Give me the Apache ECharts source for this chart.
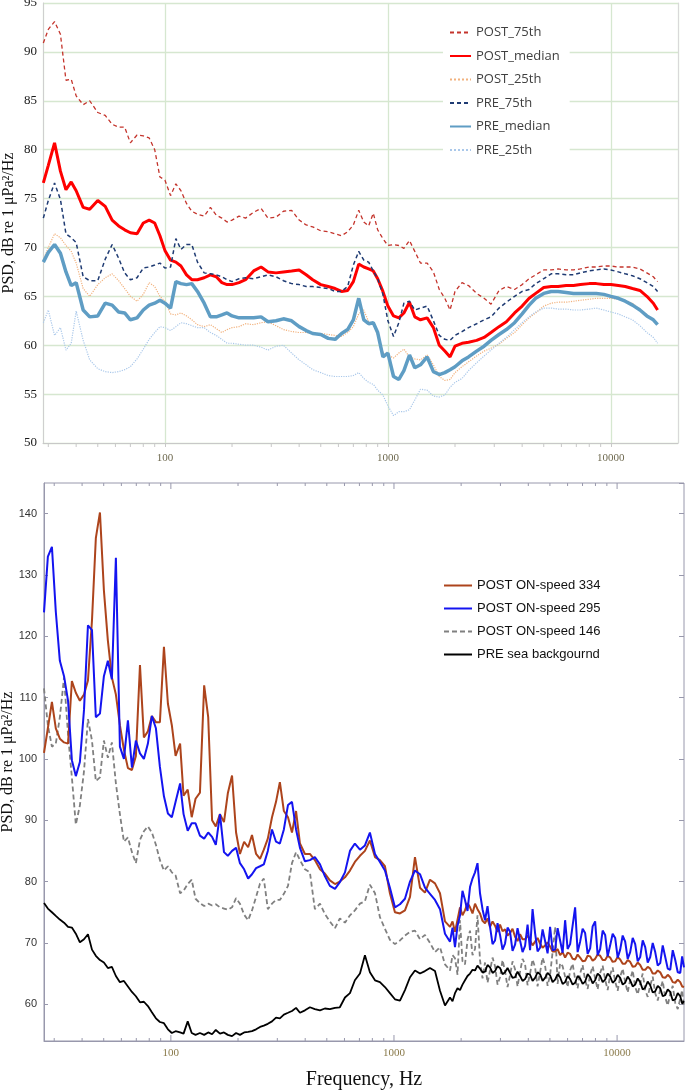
<!DOCTYPE html>
<html>
<head>
<meta charset="utf-8">
<title>PSD spectra</title>
<script src="https://cdn.jsdelivr.net/npm/echarts@6/dist/echarts.min.js"></script>
<style>
  html, body { margin: 0; padding: 0; background: #fff; }
  #main { width: 685px; height: 1091px; }
</style>
</head>
<body>
<div id="main"></div>
<script>
// ---- top panel: percentiles PRE / POST ----
var topFreq = [28.5,30,32,34,36,38,40,43,46,50, 54,58,62,66,70,75,80,85,90,95,
  100,106,112,118,125,132,140,150,160,170, 180,190,200,215,230,250,270,290,315,340,
  370,400,430,460,500,540,580,620,660,700, 740,780,820,860,900,950,1000,1060,1120,1180,
  1250,1320,1400,1500,1600,1700,1800,1900,2000,2150, 2300,2500,2700,2900,3150,3400,3700,4000,4300,4600,
  5000,5400,5800,6300,6800,7300,8000,8600,9300,10000, 10800,11600,12500,13500,14500,15500,16200];

var post75 = [90.9,92.3,93.1,91.8,87.1,87.2,85.5,84.6,85.0,83.8, 83.5,82.6,82.3,82.3,80.7,81.5,81.4,81.2,80.0,77.2,
  76.9,75.3,76.5,75.8,74.5,73.7,73.4,73.2,74.1,73.3, 73.0,72.6,72.8,73.2,73.0,73.6,74.0,73.0,73.1,73.7,
  73.8,72.8,72.3,72.1,71.7,71.6,71.4,71.2,71.6,72.3, 73.8,72.6,72.2,73.5,71.8,70.9,70.2,70.3,70.2,69.9,
  70.7,69.6,68.4,68.4,67.5,65.7,64.8,63.6,65.5,66.4, 66.1,65.3,64.8,64.2,65.6,66.0,65.7,66.2,66.8,67.2,
  67.7,67.7,67.8,67.7,67.7,67.8,68.0,68.0,68.1,68.1, 68.0,68.0,68.0,67.8,67.4,67.0,66.5];
var postMedian = [76.6,78.4,80.7,77.8,75.9,76.7,75.8,74.1,73.9,74.8, 74.2,72.8,72.2,71.8,71.5,71.4,72.5,72.8,72.5,71.2,
  69.7,68.7,68.5,68.1,67.2,66.7,66.7,66.9,67.2,67.0, 66.4,66.2,66.2,66.4,66.7,67.6,68.0,67.5,67.4,67.5,
  67.6,67.7,67.2,66.7,66.2,66.0,65.8,65.5,65.6,66.5, 68.3,68.0,67.8,67.6,66.8,65.5,64.0,63.0,62.8,63.3,
  64.4,62.9,62.6,62.8,61.8,60.0,59.4,58.8,59.9,60.2, 60.3,60.5,60.8,61.3,61.9,62.4,63.3,64.0,64.8,65.3,
  65.9,66.0,66.0,66.1,66.1,66.2,66.3,66.3,66.2,66.2, 66.1,66.0,65.8,65.6,65.0,64.3,63.6];
var post25 = [68.7,70.0,71.4,71.0,70.2,69.6,68.4,65.8,65.0,66.2, 66.9,67.3,66.6,65.8,65.0,64.5,65.2,66.4,66.0,65.0,
  64.5,63.2,63.1,63.3,63.0,62.6,62.1,61.9,62.1,61.7, 61.3,61.6,61.8,61.9,62.2,62.1,62.3,62.4,62.0,61.6,
  61.4,61.3,61.3,61.2,61.2,61.1,61.0,60.9,61.3,61.9, 63.2,63.6,62.4,62.2,61.0,59.3,59.0,58.7,59.2,59.6,
  58.8,58.6,58.5,59.0,58.0,56.8,56.4,56.5,57.2,57.8, 58.3,58.9,59.4,59.7,60.1,60.7,61.3,62.1,62.8,63.3,
  64.0,64.3,64.4,64.4,64.5,64.6,64.7,64.8,64.8,64.8, 64.7,64.6,64.3,63.7,63.1,62.6,62.1];
var pre75 = [73.0,74.8,76.6,74.9,71.4,71.0,70.5,67.0,66.6,66.6, 68.8,70.3,68.9,67.4,66.7,66.9,67.9,68.0,68.2,68.4,
  67.9,68.0,70.9,69.8,70.3,70.3,68.5,67.4,67.3,67.2, 67.0,66.7,66.5,66.8,66.9,66.8,67.0,67.2,67.0,66.6,
  66.3,66.2,66.0,66.0,65.9,65.8,65.5,65.5,66.0,68.2, 69.6,68.7,68.5,67.6,66.8,65.2,62.5,60.9,62.3,64.3,
  64.5,63.6,63.8,64.0,62.5,61.0,60.6,60.5,61.0,61.4, 61.8,62.2,62.6,62.9,63.8,64.4,65.0,65.5,65.7,66.3,
  66.8,67.3,67.3,67.2,67.2,67.4,67.6,67.7,67.8,67.7, 67.5,67.3,67.1,66.8,66.4,66.0,65.5];
var preMedian = [68.5,69.5,70.3,69.4,67.5,66.1,66.4,63.6,62.9,63.0, 64.3,64.1,63.4,63.3,62.6,62.8,63.6,64.1,64.3,64.6,
  64.3,63.8,66.5,66.3,66.2,66.3,65.5,64.3,62.9,62.9, 63.1,63.3,63.0,62.8,62.8,62.8,62.9,62.4,62.5,62.7,
  62.5,61.9,61.5,61.2,61.1,60.7,60.6,61.2,61.6,62.6, 64.8,62.6,62.2,62.3,61.3,58.8,59.2,56.8,56.5,57.4,
  59.0,57.7,58.0,58.8,57.3,57.0,57.2,57.5,57.8,58.4, 58.8,59.4,59.9,60.5,61.1,61.6,62.3,63.2,64.1,64.8,
  65.3,65.5,65.5,65.4,65.3,65.3,65.3,65.3,65.2,65.0, 64.8,64.5,64.1,63.6,63.0,62.6,62.1];
var pre25 = [62.3,63.6,61.0,61.8,59.5,60.2,63.5,60.5,58.5,57.6, 57.3,57.2,57.3,57.5,57.8,58.6,59.6,60.6,61.3,61.9,
  61.8,61.5,61.9,62.3,62.2,62.0,61.8,61.8,61.3,61.0, 60.6,60.2,60.2,60.1,60.0,60.0,59.8,59.5,59.9,60.0,
  59.2,58.5,58.0,57.5,57.2,56.9,56.8,56.8,56.8,56.9, 57.2,56.6,56.2,56.0,55.4,54.9,53.8,52.8,53.2,53.2,
  53.4,54.4,55.5,55.4,54.8,54.7,54.9,55.7,56.2,56.6, 57.4,58.2,58.9,59.5,60.2,60.8,61.6,62.3,62.9,63.4,
  63.8,63.8,63.7,63.7,63.6,63.6,63.7,63.8,63.6,63.4, 63.2,62.9,62.6,62.0,61.3,60.8,60.2];

// ---- bottom panel: ON-speed passes vs background ----
var botFreq = [27.0,28.1,29.3,30.5,31.8,33.2,34.6,36.0,37.5,39.1, 40.8,42.5,44.3,46.1,48.1,50.1,52.2,54.4,56.7,59.1,
  61.6,64.2,66.9,69.7,72.7,75.7,78.9,82.2,85.7,89.3, 93.1,97.0,101,105,110,114,119,124,129,135,
  141,147,153,159,166,173,180,188,196,204, 213,222,231,241,251,261,272,284,296,308,
  321,335,349,364,379,
  399,420,442,466,490,516,544,572,603,635, 668,704,741,780,822,865,911,959,1010,1064,
  1120,1180,1242,1308,1377,1450,1527,1608,1693,
  1783,1830,1877,1927,1977,2028,2081,2136,2192,2249, 2308,2368,2430,2494,2559,2626,2695,2766,2838,2912,
  2988,3066,3146,3229,3313,3400,3489,3580,3674,3770, 3869,3970,4074,4180,4290,4402,4517,4636,4757,4881,
  5009,5140,5275,5413,5554,5700,5849,6002,6159,6320, 6485,6655,6829,7008,7191,7380,7573,7771,7974,8183,
  8397,8617,8842,9074,9311,9555,9805,10061,10325,10595, 10872,11157,11449,11749,12056,12372,12695,13027,13368,13718,
  14077,14445,14823,15211,15609,16018,16437,16867,17308,17761, 18226,18703,19192,19567,19950];

var on334 = [101,105,109.3,105,103.3,102.7,102.5,112.7,110.8,109.5, 110.5,112.8,122.6,136,140.2,127.5,119.3,113.3,110.5,105.5,
  101.5,98.5,98.2,100.5,115.3,103.5,104.5,107,106,106, 118.3,109,105.5,100.5,102.5,94,95,90.5,93.5,94.5,
  112,106.8,90,89,91,89.7,94.4,97.3,88,84.5, 86.5,85.6,87.6,84.5,83.7,85.2,87,90.5,93,96.2,
  91.5,90.5,88,91.5,86.2,
  84.5,84.5,83.5,82,81.3,80.2,79.6,80,80.7,81.8, 83.2,84.2,85,86.7,84,83.5,82.5,78.1,75,74.8,
  75.3,77.5,84,79,78.2,80.3,79.7,78.1,73.5,
  72.6,73.5,71.8,73.8,75.8,74.5,75.3,76.5,75.8,74.8, 76.4,75.5,74.8,73.6,73.2,74,72.6,73.5,72.8,71.8,
  73,71.9,72.2,71.2,71.6,72.3,71,70.3,71.4,70.6, 70.6,71.2,70.4,69.6,70.2,70.8,69.9,69.2,69.6,70.1,
  69.4,68.6,68.6,69,68,68.5,67.6,68.4,68.2,67.4, 67.3,68.1,67.6,67,67.1,67.9,67.8,67.1,67.4,68.1,
  67.9,67.2,67.2,67.9,67.6,66.9,67,67.7,67.3,66.6, 66.6,67.2,66.9,66.1,66.2,66.8,66.4,65.6,65.6,66.1,
  65.8,65,65,65.5,65.2,64.4,64.3,64.8,64.4,63.6, 63.5,64,63.6,62.9,62.8];
var on295 = [123.9,133,134.6,124,116,113.5,109.5,99.8,97.2,99.5, 108,121.8,121,106.8,107.4,113.5,116,113,132.8,102,
  100,106.3,98.6,103,100.9,100,102.5,107,105,98.7, 93.9,91.1,90.5,93,96,91,88.3,89.5,89.5,87.5,
  87,88,87.3,86,91,84.8,84.2,85,85.5,83, 82,80.5,81.2,82.2,82.5,82.8,85,88.5,86.5,86.2,
  88.5,92.5,93,88.5,85.5,
  83.3,83.5,84,82.8,80.9,79.3,78.8,79.9,81.5,85, 86.2,85.2,85.9,88,84.5,83.2,81.8,79,75.8,76.3,
  77.2,80,81.8,81.2,79,78,77,75.5,71.5,
  70.2,72.5,69.3,72.8,74.5,78.5,77,75.2,79.1,80.5, 81.5,83,78.1,75.5,73.7,76,72.6,69.8,70.4,73.2,
  71.3,68.9,69.9,72.5,71.8,68.7,69.7,72.4,70.4,68.5, 69.5,73,68.8,75.5,71.6,68.6,69.2,72.2,70.3,68.3,
  72.6,68.8,68.9,72.4,70.4,68.4,73.7,69,69.8,72.8, 75.8,68.5,70.2,72.3,71.6,68.2,69.1,72.7,73.5,68,
  69,72,71.3,67.8,69.6,71.5,70.8,67.6,68.9,71.2, 70.2,67.4,68.5,70.8,69.8,67,67.7,70.4,69.3,66.8,
  67.7,70,68.5,66.3,66.7,69.6,67.7,65.8,65.6,68.8, 67.2,65.2,65.1,67.8,66];
var on146 = [111.5,105.5,102,102.5,106.8,113.3,104,97,89.3,92.4, 98,106.5,103,96.4,97,103,100.2,102.7,96,91,
  86.5,87.2,84.8,83,86.8,88.2,89,88,86,83.5, 81.8,82.5,81.5,81,78.1,78.5,79.6,80.3,77.2,76.5,
  76,76.4,76.1,76.3,75.8,75.6,75.4,75.8,77.3,76.4, 74.6,73.7,75.3,77.5,79.7,80.5,75.5,76.4,77,77,
  78,79.3,83,84.8,83.5,
  82,81.5,75.5,76.4,74.7,73.5,72.4,74,73.3,74.5, 75.3,76.4,76.8,79.5,78.1,74.2,72.3,70.5,69.8,70.4,
  71.2,71.8,72,70.6,71.3,70,68.5,69.3,66.5,
  65.5,68,67.5,64.8,73.7,67,66.5,70.5,72,68, 69,74.5,67.2,64.2,66.8,63.5,65.5,67.6,66.2,63.2,
  64.4,67.2,65.4,62.8,64.7,67,65.7,62.9,65.3,67.4, 66.5,63.1,65,67.3,66,62.9,65.2,67.6,66.3,63,
  64.8,68.5,72.6,63.3,66.7,66.2,64.5,62.8,65.5,66.6, 64.1,62.6,65,66.4,63.9,62.5,64.8,66.2,64.2,62.4,
  65.1,66.3,64,62.3,64.8,66,63.7,62.2,64.5,65.8, 63.6,61.9,64,65.5,62.8,61.6,63.4,65,62.3,61.2,
  63,64.5,61.8,60.6,62.4,63.8,61.1,59.8,61.7,63, 60.2,59.2,60.9,62.3,59.5];
var preSea = [76.5,75.6,75,74.4,73.8,73.3,72.6,72.5,71.5,70.1, 70.6,71.4,68.9,67.9,67.2,66.8,65.9,66.1,64.6,63.6,
  63.8,62.9,62,61.3,60.3,60.4,59.7,58.7,57.7,57.1, 56.9,55.9,55.3,55.6,55.4,55.2,57.2,55.3,55,55.3,
  55,55.4,55.1,55.8,55.2,55.4,55,54.8,55.3,55, 55.4,55.5,55.6,55.9,56.3,56.5,56.8,57.2,57.8,57.7,
  58.3,58.6,58.9,59.4,58.6,
  59,59.5,59.2,59,59.3,59.2,59.4,59.5,61.1,61.8, 63.9,65,68,65.2,63.9,63.6,62.8,61.8,60.8,60.6,
  62.3,64.4,65.5,65,65.4,65.9,65.4,62.2,59.8,
  61.1,60.5,61.8,62.6,62.3,63.2,63.9,64.6,65,65.6, 65.5,66.3,65.8,65.2,65.3,66.4,66,65.1,65.4,66.2,
  65.9,64.9,65.2,65.9,65.1,64.3,64.4,65.3,64.6,63.8, 64.1,65,64.8,63.8,64.3,65.2,64.9,63.8,64.3,65.1,
  64.7,63.6,64,64.9,64.4,63.3,63.6,64.6,64.1,63.2, 63.5,64.6,64.2,63.3,63.7,64.9,64.4,63.4,63.9,65,
  64.6,63.6,64,65,64.5,63.5,63.9,64.8,64.3,63.2, 63.5,64.5,63.9,62.9,63.2,64.2,63.6,62.4,62.7,63.7,
  63.1,61.9,62.1,63,62.6,61.3,61.5,62.4,62,60.6, 60.8,61.8,61.3,60.1,60.5];

// log-axis ticks between the decades
var minorTicks = [30,40,50,60,70,80,90,200,300,400,500,600,700,800,900,
  2000,3000,4000,5000,6000,7000,8000,9000];
var majorTicks = [100,1000,10000];

var topNames = ['POST_75th','POST_median','POST_25th','PRE_75th','PRE_median','PRE_25th'];
var botNames = ['POST ON-speed 334','POST ON-speed 295','POST ON-speed 146','PRE sea backgournd'];

var serif = '"Liberation Serif", "DejaVu Serif", serif';
var sans = '"Liberation Sans", Arial, sans-serif';
var yName = 'PSD, dB re 1 \u03bcPa\u00b2/Hz';

function pairs(xs, ys) {
  return xs.map(function (x, i) { return [x, ys[i]]; });
}

function line(name, xs, ys, axis, color, width, dash) {
  return {
    name: name, type: 'line', xAxisIndex: axis, yAxisIndex: axis === 0 ? 0 : 2,
    data: pairs(xs, ys), symbol: 'none', showSymbol: false,
    lineStyle: { color: color, width: width, type: dash || 'solid' },
    itemStyle: { color: color }
  };
}

// small tick marks drawn through the axis scale
function ticks(axis, freqs, yVal, len, color) {
  return {
    type: 'custom', xAxisIndex: axis, yAxisIndex: axis === 0 ? 0 : 2,
    silent: true, clip: false, z: 6,
    data: freqs.map(function (f) { return [f, yVal]; }),
    renderItem: function (params, api) {
      var p = api.coord([api.value(0), api.value(1)]);
      return { type: 'line', shape: { x1: p[0], y1: p[1], x2: p[0], y2: p[1] + len },
        style: { stroke: color, lineWidth: 1 } };
    }
  };
}

var chart = echarts.init(document.getElementById('main'));

chart.setOption({
  animation: false,
  backgroundColor: '#fff',
  grid: [
    { left: 43, top: 3, width: 635, height: 440, outerBoundsMode: 'none' },
    { left: 44, top: 483, width: 640, height: 558, show: true, borderColor: '#9898ac', borderWidth: 1, outerBoundsMode: 'none' }
  ],
  xAxis: [
    {
      type: 'log', gridIndex: 0, min: 28.4, max: 20000, splitNumber: 3,
      axisLine: { lineStyle: { color: '#c8c8c8' } },
      axisTick: { show: true, length: 4, lineStyle: { color: '#c8c8c8' } },
      splitLine: { show: true, lineStyle: { color: '#d6e7d0', width: 1.3 } },
      axisLabel: { showMinLabel: false, showMaxLabel: false, margin: 10, color: '#6f6a50',
        fontFamily: serif, fontSize: 11, formatter: function (v) { return String(Math.round(v)); } }
    },
    {
      type: 'log', gridIndex: 1, min: 27, max: 19950, splitNumber: 3,
      axisLine: { lineStyle: { color: '#9898ac' } },
      axisTick: { show: false }, splitLine: { show: false },
      axisLabel: { showMinLabel: false, showMaxLabel: false, margin: 7, color: '#8a7a4a',
        fontFamily: serif, fontSize: 11, formatter: function (v) { return String(Math.round(v)); } },
      name: 'Frequency, Hz', nameLocation: 'middle', nameGap: 29, nameMoveOverlap: false,
      nameTextStyle: { fontFamily: serif, fontSize: 20, color: '#111' }
    }
  ],
  yAxis: [
    {
      type: 'value', gridIndex: 0, min: 50, max: 95, interval: 5,
      axisLine: { show: true, lineStyle: { color: '#cfcfcf' } },
      axisTick: { show: false },
      splitLine: { show: true, lineStyle: { color: '#d6e7d0', width: 1.3 } },
      axisLabel: { margin: 6, color: '#1a1a1a', fontFamily: serif, fontSize: 13 },
      name: yName, nameLocation: 'middle', nameGap: 26, nameMoveOverlap: false,
      nameTextStyle: { fontFamily: serif, fontSize: 16, color: '#111' }
    },
    {
      type: 'value', gridIndex: 0, position: 'right', min: 50, max: 95, interval: 5,
      axisLine: { show: true, lineStyle: { color: '#d9d9d9' } },
      axisTick: { show: false }, axisLabel: { show: false }, splitLine: { show: false }
    },
    {
      type: 'value', gridIndex: 1, min: 54, max: 145, splitNumber: 9,
      axisLine: { show: true, lineStyle: { color: '#9898ac' } },
      axisTick: { show: true, inside: true, length: 4, lineStyle: { color: '#9898ac' } },
      splitLine: { show: false },
      axisLabel: { showMinLabel: false, showMaxLabel: false, margin: 7, color: '#333',
        fontFamily: sans, fontSize: 11 },
      name: yName, nameLocation: 'middle', nameGap: 28, nameMoveOverlap: false,
      nameTextStyle: { fontFamily: serif, fontSize: 16, color: '#111' }
    },
    {
      type: 'value', gridIndex: 1, position: 'right', min: 54, max: 145, splitNumber: 9,
      axisLine: { show: false },
      axisTick: { show: true, inside: true, length: 5, lineStyle: { color: '#9898ac' } },
      axisLabel: { show: false }, splitLine: { show: false }
    }
  ],
  legend: [
    {
      data: topNames, orient: 'vertical', left: 443, top: 20, padding: [6, 10, 6, 6],
      itemWidth: 21, itemHeight: 14, itemGap: 10.5, backgroundColor: '#fff',
      itemStyle: { opacity: 0 },
      textStyle: { fontFamily: '"Open Sans", sans-serif', fontSize: 13, color: '#404040' }
    },
    {
      data: botNames, orient: 'vertical', left: 443, top: 579, padding: 0,
      itemWidth: 28, itemHeight: 14, itemGap: 10,
      itemStyle: { opacity: 0 },
      textStyle: { fontFamily: sans, fontSize: 13, color: '#111' }
    }
  ],
  series: [
    line('POST_75th', topFreq, post75, 0, '#c4342c', 1.3, [4, 3]),
    line('POST_median', topFreq, postMedian, 0, '#ff0000', 3),
    line('POST_25th', topFreq, post25, 0, '#f2b27e', 1.2, 'dotted'),
    line('PRE_75th', topFreq, pre75, 0, '#1f3b73', 1.5, [4, 3]),
    line('PRE_median', topFreq, preMedian, 0, '#5f9dc4', 3.5),
    line('PRE_25th', topFreq, pre25, 0, '#aac8ea', 1.2, 'dotted'),
    line('POST ON-speed 146', botFreq, on146, 1, '#808080', 1.8, [5, 3]),
    line('PRE sea backgournd', botFreq, preSea, 1, '#000000', 1.8),
    line('POST ON-speed 334', botFreq, on334, 1, '#ad441c', 2),
    line('POST ON-speed 295', botFreq, on295, 1, '#1414f0', 2),
    ticks(0, minorTicks, 50, 4, '#c8c8c8'),
    ticks(1, minorTicks, 54, -3, '#9898ac'),
    ticks(1, majorTicks, 54, -6, '#9898ac'),
    ticks(1, minorTicks, 145, 3, '#9898ac'),
    ticks(1, majorTicks, 145, 6, '#9898ac')
  ]
});
</script>
</body>
</html>
